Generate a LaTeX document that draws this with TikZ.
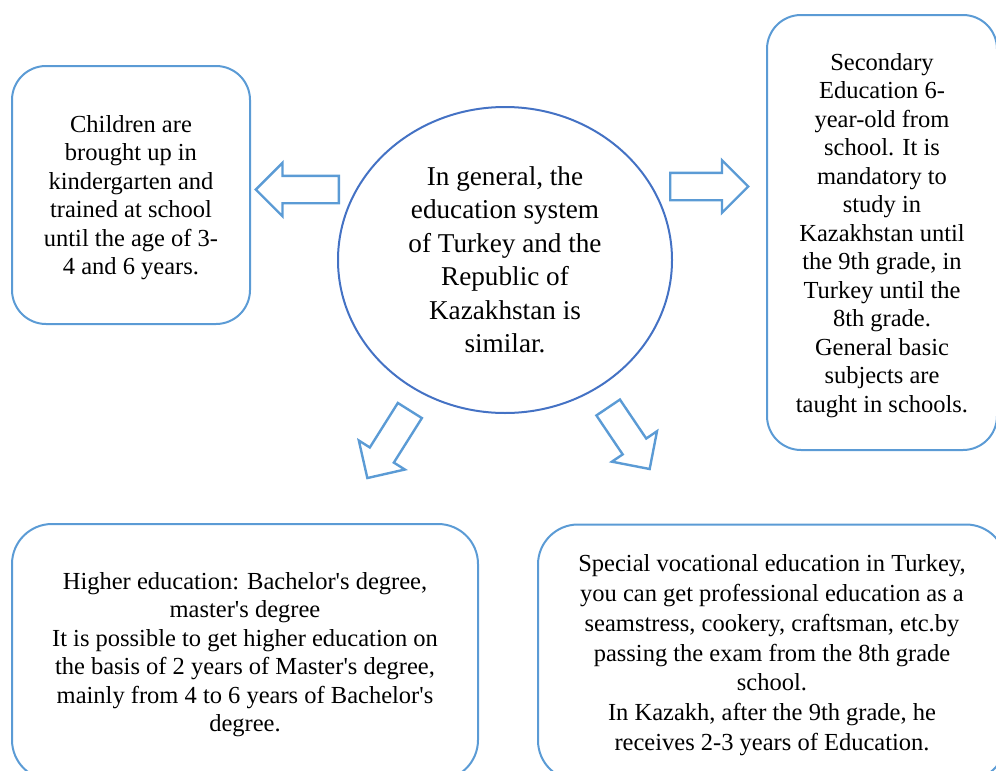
\documentclass[tikz,border=0pt]{standalone}
\usepackage{fontspec}
\setmainfont{Liberation Serif}
\usepackage{tikz}
\usetikzlibrary{shapes.geometric,shapes.arrows}
\definecolor{BoxBlue}{HTML}{5B9BD5}
\definecolor{RingBlue}{HTML}{4472C4}
\newcommand{\apos}{\textquotesingle}

\begin{document}
\begin{tikzpicture}[x=0.5pt,y=-0.5pt,
    infobox/.style={draw=BoxBlue,line width=1pt,rounded corners=17pt,align=center,
                    inner sep=0pt,text depth=0pt,font=\fontsize{12.25}{14.2}\selectfont},
    hub/.style={ellipse,draw=RingBlue,line width=1pt,inner sep=0pt,align=center,
                minimum width=167pt,minimum height=153pt,font=\fontsize{13.6}{16.75}\selectfont},
    blockarrow/.style={single arrow,draw=BoxBlue,line width=1.2pt,inner xsep=0pt,
                       inner ysep=6.25pt,single arrow head extend=6.5pt,anchor=tail}
  ]
  \useasboundingbox (0,0) rectangle (996,771);
  \node[hub] (C) at (505,260) {In general, the\\education system\\of Turkey and the\\Republic of\\Kazakhstan is\\similar.};
  \node[infobox,minimum width=119pt,minimum height=129pt] (K) at (131,195)
    {Children are\\brought up in\\kindergarten and\\trained at school\\until the age of 3-\\4 and 6 years.};
  \node[infobox,minimum width=115pt,minimum height=217.5pt,font=\fontsize{12.25}{14.25}\selectfont] (S) at (882,232.5)
    {Secondary\\Education 6-\\year-old from\\school. It is\\mandatory to\\study in\\Kazakhstan until\\the 9th grade, in\\Turkey until the\\8th grade.\\General basic\\subjects are\\taught in schools.};
  \node[infobox,rounded corners=20pt,minimum width=233pt,minimum height=128pt] (H) at (245,652)
    {Higher education: Bachelor\apos s degree,\\master\apos s degree\\It is possible to get higher education on\\the basis of 2 years of Master\apos s degree,\\mainly from 4 to 6 years of Bachelor\apos s\\degree.};
  \node[infobox,rounded corners=20pt,minimum width=234pt,minimum height=128pt,font=\fontsize{12.25}{14.9}\selectfont] (V) at (772,652.5)
    {Special vocational education in Turkey,\\you can get professional education as a\\seamstress, cookery, craftsman, etc.by\\passing the exam from the 8th grade\\school.\\In Kazakh, after the 9th grade, he\\receives 2-3 years of Education.};
  \node[blockarrow,rotate=180,minimum height=41.5pt] (toK) at (340,189.5) {};
  \node[blockarrow,rotate=0,minimum height=39pt,single arrow head extend=6.25pt] (toS) at (669,186.5) {};
  \node[blockarrow,rotate=237.8,minimum height=39.9pt,inner ysep=6.5pt] (toH) at (410.5,409.5) {};
  \node[blockarrow,rotate=-56,minimum height=37.1pt,inner ysep=6.5pt] (toV) at (607.5,406.5) {};
\end{tikzpicture}
\end{document}
